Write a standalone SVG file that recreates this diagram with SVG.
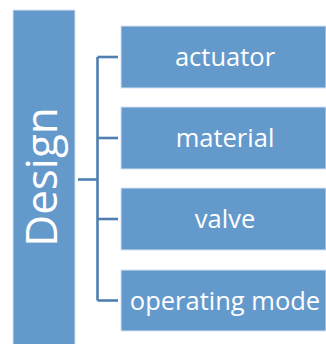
<svg xmlns="http://www.w3.org/2000/svg" width="326" height="344" viewBox="0 0 326 344">
  <style>
    .box { fill: #6499cc; stroke: #d6e4f2; stroke-width: 1; }
    .label { fill: #ffffff; font-family: "Open Sans", "Noto Sans", sans-serif; font-size: 25.5px; text-anchor: middle; }
    .title { font-size: 44px; }
    .link { fill: none; stroke: #4f7fb0; stroke-width: 2.6; }
  </style>
  <rect width="326" height="344" fill="#ffffff"/>

  <!-- root bar -->
  <g id="design">
    <rect class="box" x="13" y="10" width="62" height="336"/>
    <text class="label title" transform="translate(57,177) rotate(-90)">Design</text>
  </g>

  <!-- tree connectors -->
  <g id="connectors">
    <path class="link" d="M78 179.5 H97.5"/>
    <path class="link" d="M97.5 57 V300.5"/>
    <path class="link" d="M97.5 57 H118"/>
    <path class="link" d="M97.5 138 H118"/>
    <path class="link" d="M97.5 219 H118"/>
    <path class="link" d="M97.5 300.5 H118"/>
  </g>

  <g id="actuator">
    <rect class="box" x="121" y="26" width="205" height="62"/>
    <text class="label" x="225" y="66">actuator</text>
  </g>
  <g id="material">
    <rect class="box" x="121" y="107" width="205" height="62"/>
    <text class="label" x="225" y="147">material</text>
  </g>
  <g id="valve">
    <rect class="box" x="121" y="188" width="205" height="62"/>
    <text class="label" x="225" y="228">valve</text>
  </g>
  <g id="operating-mode">
    <rect class="box" x="121" y="270" width="205" height="61"/>
    <text class="label" x="225" y="309.5">operating mode</text>
  </g>
</svg>
